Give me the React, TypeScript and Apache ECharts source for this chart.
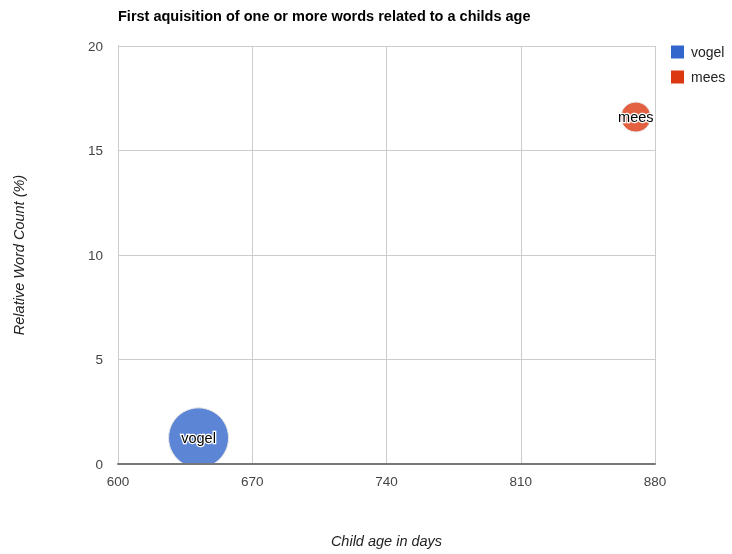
import React, { useEffect, useRef } from "react";
import * as echarts from "echarts";

const seriesNames = ["vogel", "mees"];
const ageDays = [642, 870];
const relativeWordCount = [1.25, 16.6];
const bubbleSizeValues = [2, 1];
const solidColors = ["#3366cc", "#dc3912"];
const bubbleColors = ["#5c85d6", "#e36141"];
const xTicks = [600, 670, 740, 810, 880];
const yTicks = [0, 5, 10, 15, 20];

export default function App() {
  const ref = useRef<HTMLDivElement>(null);
  useEffect(() => {
    if (!ref.current) return;
    const chart = echarts.init(ref.current, undefined, { renderer: "svg" });
    const font = "Arial, 'Liberation Sans', sans-serif";
    const series = seriesNames.map((name, i) => ({
      name,
      type: "scatter",
      data: [[ageDays[i], relativeWordCount[i], bubbleSizeValues[i]]],
      symbolSize: (v: number[]) => v[2] * 30,
      itemStyle: { color: bubbleColors[i], opacity: 1, borderColor: "#e6e6e6", borderWidth: 1 },
      label: {
        show: true,
        position: "inside",
        formatter: name,
        color: "#000",
        fontSize: 14.5,
        fontFamily: font,
        textBorderColor: "#fff",
        textBorderWidth: 2.5,
      },
      z: 2,
    }));
    chart.setOption({
      animation: false,
      title: {
        text: "First aquisition of one or more words related to a childs age",
        left: 113,
        top: 3,
        textStyle: { fontSize: 14.5, fontWeight: "bold", fontFamily: font, color: "#000" },
      },
      legend: {
        orient: "vertical",
        left: 666,
        top: 40,
        itemWidth: 13,
        itemHeight: 13,
        itemGap: 11,
        icon: "rect",
        textStyle: { fontSize: 14, fontFamily: font, color: "#222", padding: [0, 0, 0, 2] },
        data: seriesNames.map((n, i) => ({
          name: n,
          itemStyle: { color: solidColors[i], borderWidth: 0 },
        })),
      },
      grid: { left: 118, top: 46, right: 77, bottom: 90, containLabel: false },
      xAxis: {
        type: "value",
        min: xTicks[0],
        max: xTicks[xTicks.length - 1],
        interval: 70,
        name: "Child age in days",
        nameLocation: "middle",
        nameGap: 69,
        nameTextStyle: { fontSize: 14.5, fontStyle: "italic", fontFamily: font, color: "#222" },
        axisLine: { show: true, lineStyle: { color: "#777", width: 2 } },
        axisTick: { show: false },
        axisLabel: { fontSize: 13.5, fontFamily: font, color: "#444", margin: 10 },
        splitLine: { show: true, lineStyle: { color: "#ccc" } },
        z: 5,
      },
      yAxis: {
        type: "value",
        min: yTicks[0],
        max: yTicks[yTicks.length - 1],
        interval: 5,
        name: "Relative Word Count (%)",
        nameLocation: "middle",
        nameGap: 92,
        nameTextStyle: { fontSize: 14.5, fontStyle: "italic", fontFamily: font, color: "#222" },
        axisLine: { show: true, lineStyle: { color: "#999", width: 1 } },
        axisTick: { show: false },
        axisLabel: { fontSize: 13.5, fontFamily: font, color: "#444", margin: 15 },
        splitLine: { show: true, lineStyle: { color: "#ccc" } },
      },
      graphic: [
        { type: "rect", shape: { x: 150, y: 465, width: 100, height: 6 }, style: { fill: "#fff" }, z: 10 },
      ],
      series,
    });
    return () => chart.dispose();
  }, []);
  return (
    <div
      ref={ref}
      style={{ position: "fixed", left: 0, top: 0, width: 732, height: 554 }}
    />
  );
}
